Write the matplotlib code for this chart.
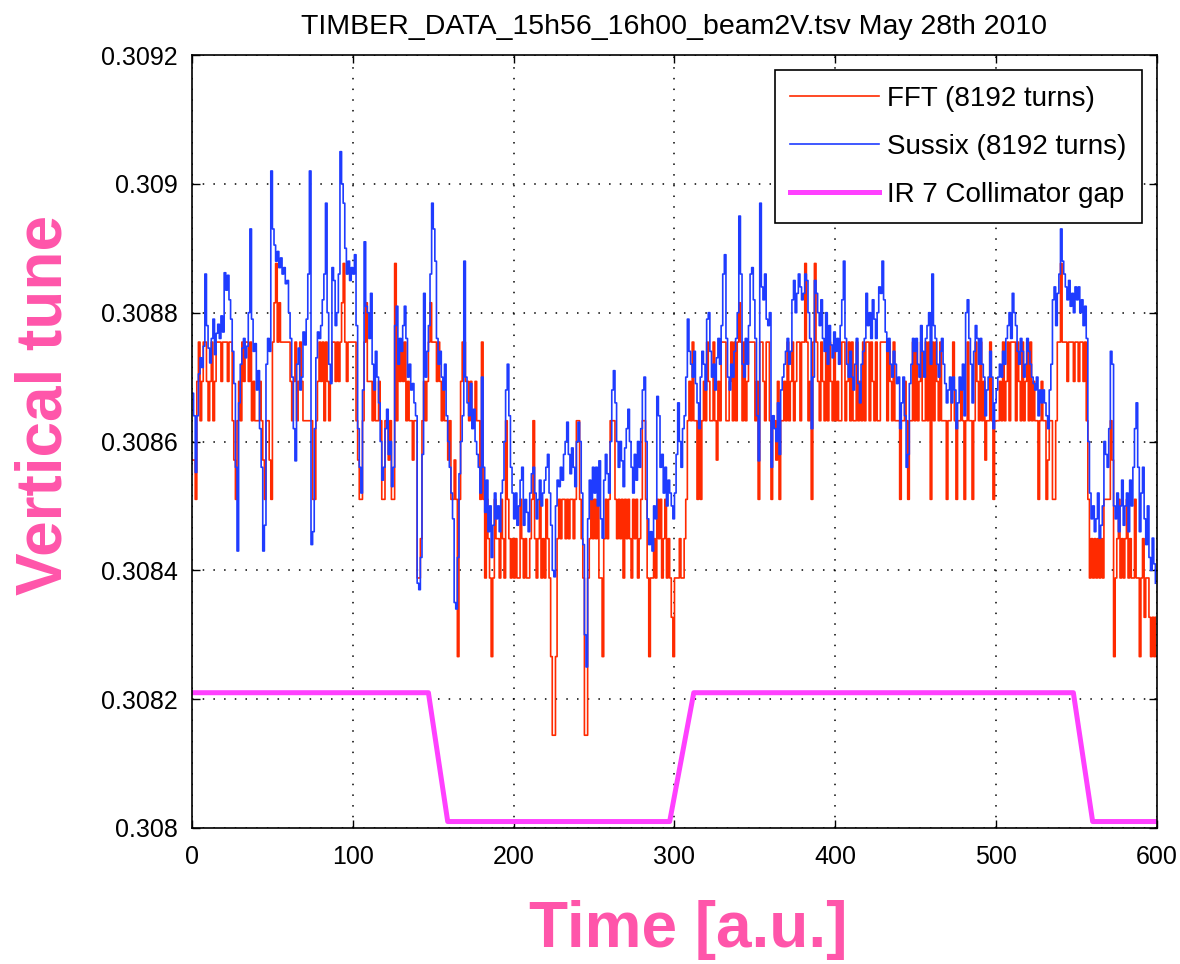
import numpy as np
import matplotlib
matplotlib.use("Agg")
import matplotlib.pyplot as plt

# FFT tune, quantised: hex digit k -> fft_base + k * fft_step
fft_base = 0.308144
fft_step = 1.0 / 16384
fft_levels = (
    "7769a89aa9" "89a89aaa9a" "aa9aa87689" "8a9aa9a898" "8898768876"
    "abcabaaaaa" "a989a89a98" "888886689a" "9a8a989aa9" "a9abca9aaa"
    "aa87668ab9" "9989889866" "887866c8a9" "a9a8988788" "4458989aba"
    "aa9a989887" "86676269aa" "9989889886" "a646542465" "5465486545"
    "4544654544" "5685456454" "6542002565" "6656566568" "8654004565"
    "6564425656" "8886565646" "5654656456" "8864244546" "5645645432"
    "4445445689" "8a88686898" "a988a8798a" "aa889a8a8a" "ba8a89aaaa"
    "896aa98aa8" "6887968898" "a89a89aa8a" "aca896aca9" "8a98a8a98a"
    "8988aa89a8" "a88a898a8a" "a8a98a88aa" "aa8a98a888" "68898688a8"
    "a89a88a8a6" "a8a98a8886" "889a868898" "68a8868a98" "a89788a868"
    "8898a89a8a" "aa8a98a89a" "8a89886898" "86788668aa" "caaa9aaa9a"
    "a9aa9a8645" "4545454666" "6872456454" "5645446442" "4534432323"
)

# Sussix tune, in units of 1e-6 above 0.308
sussix_base = 0.308
sussix_micro = [
    675, 640, 552, 640, 705, 730, 715, 748, 860, 780,
    745, 722, 760, 790, 735, 768, 782, 760, 795, 770,
    862, 835, 858, 820, 790, 740, 690, 560, 430, 660,
    720, 745, 760, 730, 748, 800, 930, 790, 740, 752,
    680, 710, 620, 560, 430, 470, 720, 760, 740, 1020,
    930, 905, 880, 895, 870, 885, 860, 870, 845, 850,
    800, 760, 700, 620, 570, 720, 745, 680, 700, 770,
    750, 790, 860, 1020, 440, 460, 620, 730, 770, 760,
    780, 820, 860, 970, 800, 720, 690, 870, 850, 780,
    800, 860, 1050, 1000, 970, 900, 860, 880, 850, 870,
    860, 890, 780, 620, 560, 520, 680, 910, 810, 800,
    760, 830, 720, 680, 740, 700, 660, 600, 540, 560,
    620, 650, 580, 600, 530, 560, 780, 810, 720, 760,
    740, 780, 810, 760, 700, 720, 680, 690, 660, 640,
    380, 370, 420, 580, 830, 700, 740, 780, 860, 970,
    930, 880, 760, 720, 740, 700, 680, 720, 640, 600,
    560, 520, 480, 350, 340, 420, 550, 600, 640, 880,
    700, 660, 640, 690, 620, 650, 600, 580, 560, 520,
    700, 560, 490, 540, 460, 500, 420, 470, 520, 480,
    500, 460, 520, 540, 600, 680, 720, 640, 560, 520,
    480, 520, 470, 500, 540, 560, 470, 510, 490, 460,
    520, 550, 560, 520, 480, 510, 540, 500, 520, 540,
    560, 580, 520, 470, 400, 390, 500, 540, 530, 560,
    540, 580, 600, 630, 580, 550, 590, 560, 530, 600,
    630, 600, 520, 440, 300, 250, 480, 540, 510, 560,
    520, 560, 500, 570, 480, 450, 540, 580, 550, 520,
    600, 680, 710, 660, 600, 560, 600, 570, 530, 590,
    620, 650, 600, 560, 520, 580, 540, 600, 560, 620,
    680, 700, 600, 480, 440, 460, 430, 500, 480, 670,
    640, 560, 580, 520, 560, 500, 540, 520, 500, 480,
    520, 580, 660, 600, 560, 620, 640, 700, 790, 740,
    720, 700, 740, 690, 660, 620, 700, 740, 720, 680,
    790, 800, 740, 700, 720, 680, 730, 760, 720, 780,
    860, 890, 760, 700, 680, 720, 700, 740, 760, 800,
    950, 860, 720, 700, 760, 720, 780, 860, 870, 820,
    760, 640, 570, 970, 840, 820, 860, 790, 780, 800,
    560, 640, 620, 600, 660, 580, 680, 700, 720, 740,
    760, 720, 740, 820, 850, 800, 830, 860, 840, 820,
    830, 860, 850, 800, 760, 620, 700, 850, 830, 800,
    780, 820, 760, 740, 800, 720, 780, 750, 730, 770,
    740, 760, 720, 780, 820, 880, 760, 720, 700, 740,
    700, 680, 720, 760, 690, 660, 720, 740, 760, 830,
    780, 800, 760, 820, 790, 760, 800, 840, 830, 880,
    820, 770, 740, 760, 720, 700, 740, 720, 690, 700,
    620, 660, 700, 640, 560, 580, 690, 720, 760, 740,
    760, 720, 700, 780, 740, 700, 760, 780, 800, 720,
    860, 780, 760, 720, 700, 740, 760, 720, 690, 660,
    680, 700, 660, 700, 680, 620, 660, 700, 680, 720,
    640, 800, 820, 760, 720, 660, 740, 780, 760, 720,
    760, 720, 700, 640, 680, 700, 740, 700, 620, 660,
    680, 700, 720, 700, 740, 720, 760, 780, 800, 760,
    830, 800, 780, 740, 720, 760, 740, 700, 720, 760,
    740, 720, 700, 690, 680, 700, 640, 680, 660, 680,
    660, 640, 620, 680, 720, 820, 840, 780, 830, 860,
    930, 880, 860, 840, 820, 850, 810, 830, 800, 840,
    820, 840, 800, 820, 780, 810, 760, 600, 520, 480,
    500, 460, 480, 520, 450, 470, 500, 600, 580, 560,
    620, 740, 720, 500, 480, 520, 460, 500, 540, 470,
    500, 520, 460, 540, 500, 560, 620, 660, 560, 460,
    520, 560, 480, 440, 500, 420, 400, 450, 410, 380,
]

# collimator gap trace (plotted on the tune axis)
gap_time = [0, 147, 159, 297, 312, 548, 560, 600]
gap_value = [0.30821, 0.30821, 0.30801, 0.30801, 0.30821, 0.30821, 0.30801, 0.30801]

x_ticks = [0, 100, 200, 300, 400, 500, 600]
y_ticks = [0.308, 0.3082, 0.3084, 0.3086, 0.3088, 0.309, 0.3092]

fft = fft_base + fft_step * np.array([int(c, 16) for c in fft_levels])
sussix = sussix_base + np.array(sussix_micro) * 1e-6
t = np.arange(len(fft))

plt.rcParams['font.family'] = ['Liberation Sans', 'DejaVu Sans']

fig = plt.figure(figsize=(11.8, 9.64), dpi=100)
ax = fig.add_axes([0.1627, 0.1411, 0.8178, 0.8018])

ax.plot(t, fft, color='#ff2a00', lw=1.2, drawstyle='steps-post', label='FFT (8192 turns)')
ax.plot(t, sussix, color='#1f3cff', lw=1.2, drawstyle='steps-post', label='Sussix (8192 turns)')
ax.plot(gap_time, gap_value, color='#ff40ff', lw=3.6, label='IR 7 Collimator gap')

ax.set_xlim(0, 600)
ax.set_ylim(0.308, 0.3092)
ax.set_xticks(x_ticks)
ax.set_yticks(y_ticks)
ax.set_yticklabels([f"{v:g}" for v in y_ticks])
ax.grid(True, color='black', linestyle=(0, (1, 6)), linewidth=1.1)
ax.tick_params(direction='in', top=True, right=True, length=6, width=1.0)
ax.tick_params(axis='x', labelsize=18, pad=12)
ax.tick_params(axis='y', labelsize=18, pad=10)
for s in ax.spines.values():
    s.set_linewidth(1.2)

ax.set_title('TIMBER_DATA_15h56_16h00_beam2V.tsv May 28th 2010', fontsize=20.5, pad=15)
ax.set_xlabel('Time [a.u.]', fontsize=46, fontweight='bold', color='#ff55aa')
ax.set_ylabel('Vertical tune', fontsize=46, fontweight='bold', color='#ff55aa')
ax.xaxis.set_label_coords(0.514, -0.093)
ax.yaxis.set_label_coords(-0.122, 0.547)

leg = ax.legend(loc='upper right', fontsize=20, handlelength=3.2, handletextpad=0.3,
                labelspacing=0.8, borderpad=0.55, borderaxespad=0.55,
                fancybox=False, framealpha=1)
leg.get_frame().set_edgecolor('black')
leg.get_frame().set_linewidth(1.2)

fig.savefig('out.png', dpi=100)
